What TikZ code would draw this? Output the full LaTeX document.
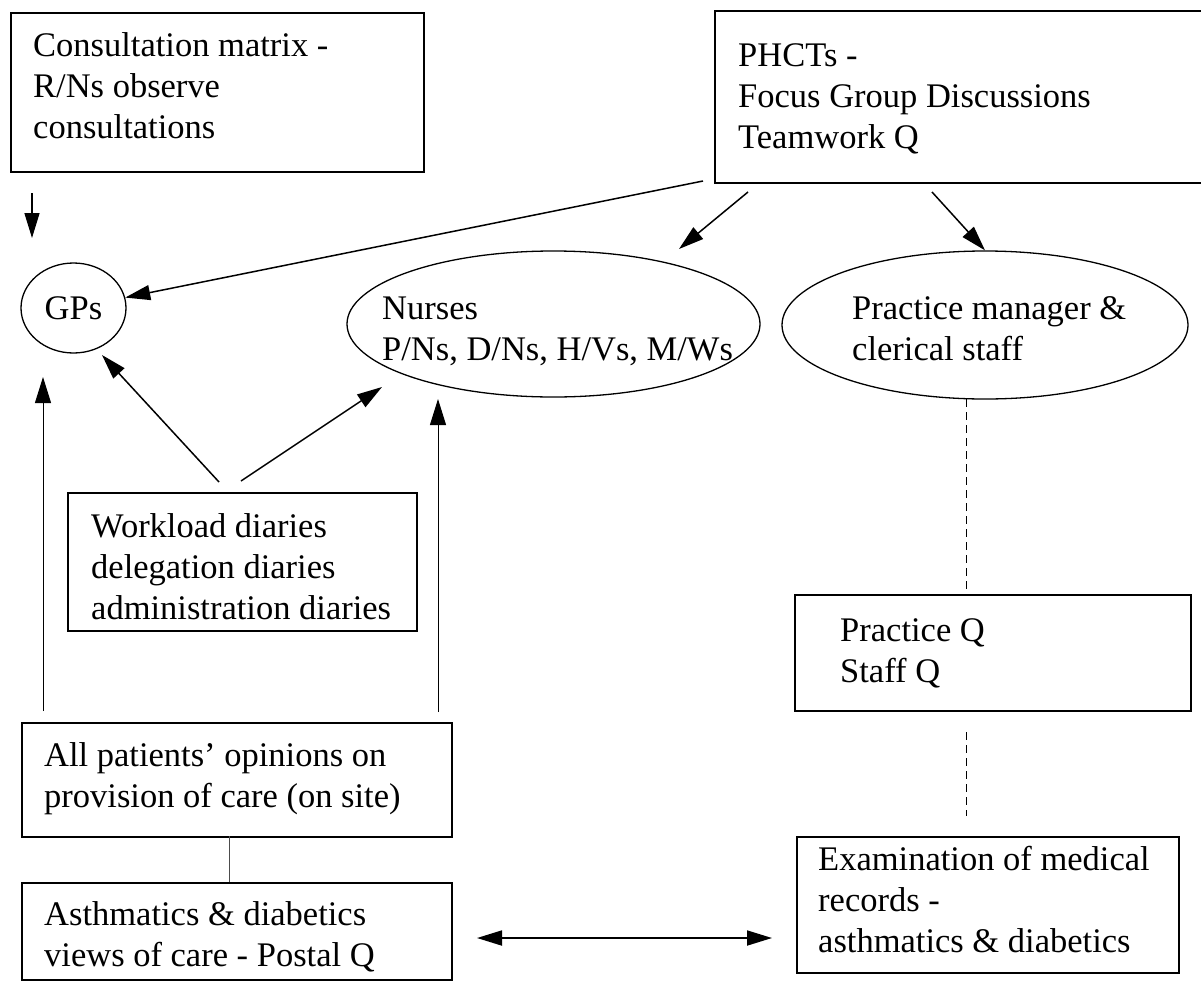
\documentclass[tikz,border=0pt]{standalone}
\usepackage{fontspec}
\setmainfont{Liberation Serif}
\usetikzlibrary{arrows.meta,shapes.geometric}
\tikzset{
  box/.style={draw, line width=1.5pt, rectangle, anchor=north west, inner sep=0pt},
  oval/.style={draw, line width=1.3pt, ellipse, inner sep=0pt},
  txt/.style={anchor=base west, inner sep=0pt, font=\fontsize{34.5pt}{41pt}\selectfont},
  arr/.style={line width=1.5pt, -{Triangle[length=25pt,width=15pt]}},
  varr/.style={line width=1pt, -{Triangle[length=26pt,width=16pt]}},
  dbl/.style={line width=1.8pt, {Triangle[length=25pt,width=15pt]}-{Triangle[length=25pt,width=15pt]}},
  dashline/.style={line width=1pt, dash pattern=on 8pt off 5pt},
  thin/.style={line width=0.8pt, black!70},
}
\newcommand\mylines[1]{\parbox[t]{14cm}{#1}}
\begin{document}
\begin{tikzpicture}[x=1pt,y=-1pt]
\useasboundingbox (0,0) rectangle (1201,980);

% boxes
\node[box, minimum width=413pt, minimum height=159pt] (b1) at (10,12) {};
\node[txt] (t1) at (33,56) {\mylines{Consultation matrix -\\R/Ns observe\\consultations}};

\node[box, minimum width=500pt, minimum height=172pt] (b2) at (714,10) {};
\node[txt] (t2) at (738,66) {\mylines{PHCTs -\\Focus Group Discussions\\Teamwork Q}};

\node[box, minimum width=349pt, minimum height=138pt] (wl) at (67,492) {};
\node[txt] (twl) at (91,537) {\mylines{Workload diaries\\delegation diaries\\administration diaries}};

\node[box, minimum width=396pt, minimum height=116pt] (pq) at (794,594) {};
\node[txt] (tpq) at (840,641) {\mylines{Practice Q\\Staff Q}};

\node[box, minimum width=430pt, minimum height=114pt] (ap) at (21,722) {};
\node[txt] (tap) at (44,766) {\mylines{All patients’ opinions on\\provision of care (on site)}};

\node[box, minimum width=430pt, minimum height=97pt] (ad) at (21,882) {};
\node[txt] (tad) at (44,925) {\mylines{Asthmatics \& diabetics\\views of care - Postal Q}};

\node[box, minimum width=382pt, minimum height=136pt] (ex) at (796,836) {};
\node[txt] (tex) at (818,870) {\mylines{Examination of medical\\records -\\asthmatics \& diabetics}};

% ovals
\node[oval, minimum width=105pt, minimum height=90pt, font=\fontsize{34.5pt}{41pt}\selectfont] (gps) at (73.5,308) {GPs};
\node[oval, minimum width=413pt, minimum height=146pt] (nur) at (553.5,324) {};
\node[txt] (tnur) at (382,319) {\mylines{Nurses\\P/Ns, D/Ns, H/Vs, M/Ws}};
\node[oval, minimum width=406pt, minimum height=148pt] (pm) at (985,325) {};
\node[txt] (tpm) at (852,319) {\mylines{Practice manager \&\\clerical staff}};

% connector end points
\coordinate (s0) at (32,193);
\coordinate (e0) at (32,238);
\coordinate (s1) at (703,181);
\coordinate (s2) at (748,192);
\coordinate (e2) at (679,249);
\coordinate (s3) at (932,192);
\coordinate (s4) at (219,482);
\coordinate (e4) at (102,355);
\coordinate (s5) at (241,481);
\coordinate (e5) at (382,387);
\coordinate (s6) at (43,711);
\coordinate (e6) at (43,377);
\coordinate (s7) at (438,712);
\coordinate (e7) at (438,399);
\coordinate (s8) at (966,399);
\coordinate (e8) at (966,594);
\coordinate (s9) at (966,732);
\coordinate (e9) at (966,816);
\coordinate (s10) at (229,836);
\coordinate (e10) at (229,882);
\coordinate (s11) at (477,938);
\coordinate (e11) at (772,938);

% connectors
\draw[arr] (s0) -- (e0);
\draw[arr] (s1) -- (gps);
\draw[arr] (s2) -- (e2);
\draw[arr] (s3) -- (pm.north);
\draw[arr] (s4) -- (e4);
\draw[arr] (s5) -- (e5);
\draw[varr] (s6) -- (e6);
\draw[varr] (s7) -- (e7);
\draw[dashline] (s8) -- (e8);
\draw[dashline] (s9) -- (e9);
\draw[thin] (s10) -- (e10);
\draw[dbl] (s11) -- (e11);
\end{tikzpicture}
\end{document}
